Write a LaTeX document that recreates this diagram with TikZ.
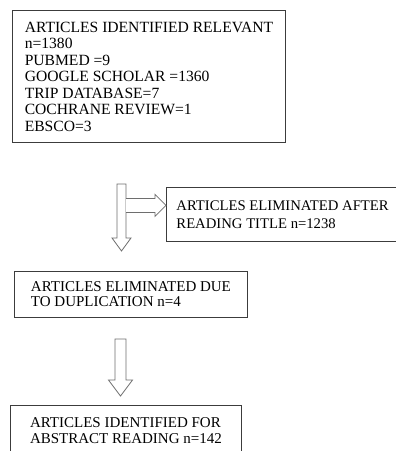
\documentclass[tikz,border=0pt]{standalone}
\usepackage{fontspec}
\setmainfont{Liberation Serif}
\usetikzlibrary{positioning,calc}
\definecolor{boxgray}{RGB}{60,60,60}
\definecolor{arrgray}{RGB}{110,110,110}

% hollow block arrow pointing down: top, tip, shaft half width, head half width, head length
\newcommand{\downblock}[5]{%
  \draw[blockarr] ($(#1)+(-#3,0)$) -- ($(#2)+(-#3,-#5)$) -- ($(#2)+(-#4,-#5)$) -- (#2)
    -- ($(#2)+(#4,-#5)$) -- ($(#2)+(#3,-#5)$) -- ($(#1)+(#3,0)$) -- cycle;}
% hollow block arrow pointing right, open at its start
\newcommand{\rightblock}[5]{%
  \draw[blockarr] ($(#1)+(0,-#3)$) -- ($(#2)+(-#5,-#3)$) -- ($(#2)+(-#5,-#4)$) -- (#2)
    -- ($(#2)+(-#5,#4)$) -- ($(#2)+(-#5,#3)$) -- ($(#1)+(0,#3)$);}

\begin{document}
\begin{tikzpicture}[
  x=1pt, y=-1pt,
  box/.style={draw=boxgray, line width=0.9pt, anchor=north west, align=left,
    inner xsep=10pt, inner ysep=0pt, font=\fontsize{15}{15}\selectfont},
  blockarr/.style={draw=arrgray, line width=0.8pt, fill=white, line join=miter}
]
  \useasboundingbox (0,0) rectangle (396,451);

  \node[box, minimum width=273pt, minimum height=132pt,
    font=\fontsize{15.6}{16.5}\selectfont] (found) at (12,10)
    {ARTICLES IDENTIFIED RELEVANT\\n=1380\\PUBMED =9\\GOOGLE SCHOLAR =1360\\TRIP DATABASE=7\\COCHRANE REVIEW=1\\EBSCO=3};
  \node[box, minimum width=228pt, minimum height=54pt,
    font=\fontsize{14.7}{18}\selectfont] (title) at (166,187)
    {ARTICLES ELIMINATED AFTER\\READING TITLE n=1238};
  \node[box, minimum width=233pt, minimum height=46pt] (dup) at (14,271)
    {ARTICLES ELIMINATED DUE\\TO DUPLICATION n=4};
  \node[box, minimum width=231pt, minimum height=50pt,
    font=\fontsize{15}{16}\selectfont] (abstract) at (10,405)
    {ARTICLES IDENTIFIED FOR\\ABSTRACT READING n=142};

  % arrows
  \coordinate (a1top) at ($(found.south west)+(109.5,41)$);
  \coordinate (a1tip) at ($(a1top |- dup.north)+(0,-20)$);
  \coordinate (hstart) at ($(a1top)+(4.5,21.5)$);
  \coordinate (htip) at (hstart -| title.west);
  \coordinate (a2top) at ($(dup.south west)+(106.5,21)$);
  \coordinate (a2tip) at ($(a2top |- abstract.north)+(0,-9)$);

  \downblock{a1top}{a1tip}{4.5}{9.5}{13}
  \rightblock{hstart}{htip}{7}{11}{11}
  \downblock{a2top}{a2tip}{5.5}{12}{16}
\end{tikzpicture}
\end{document}
